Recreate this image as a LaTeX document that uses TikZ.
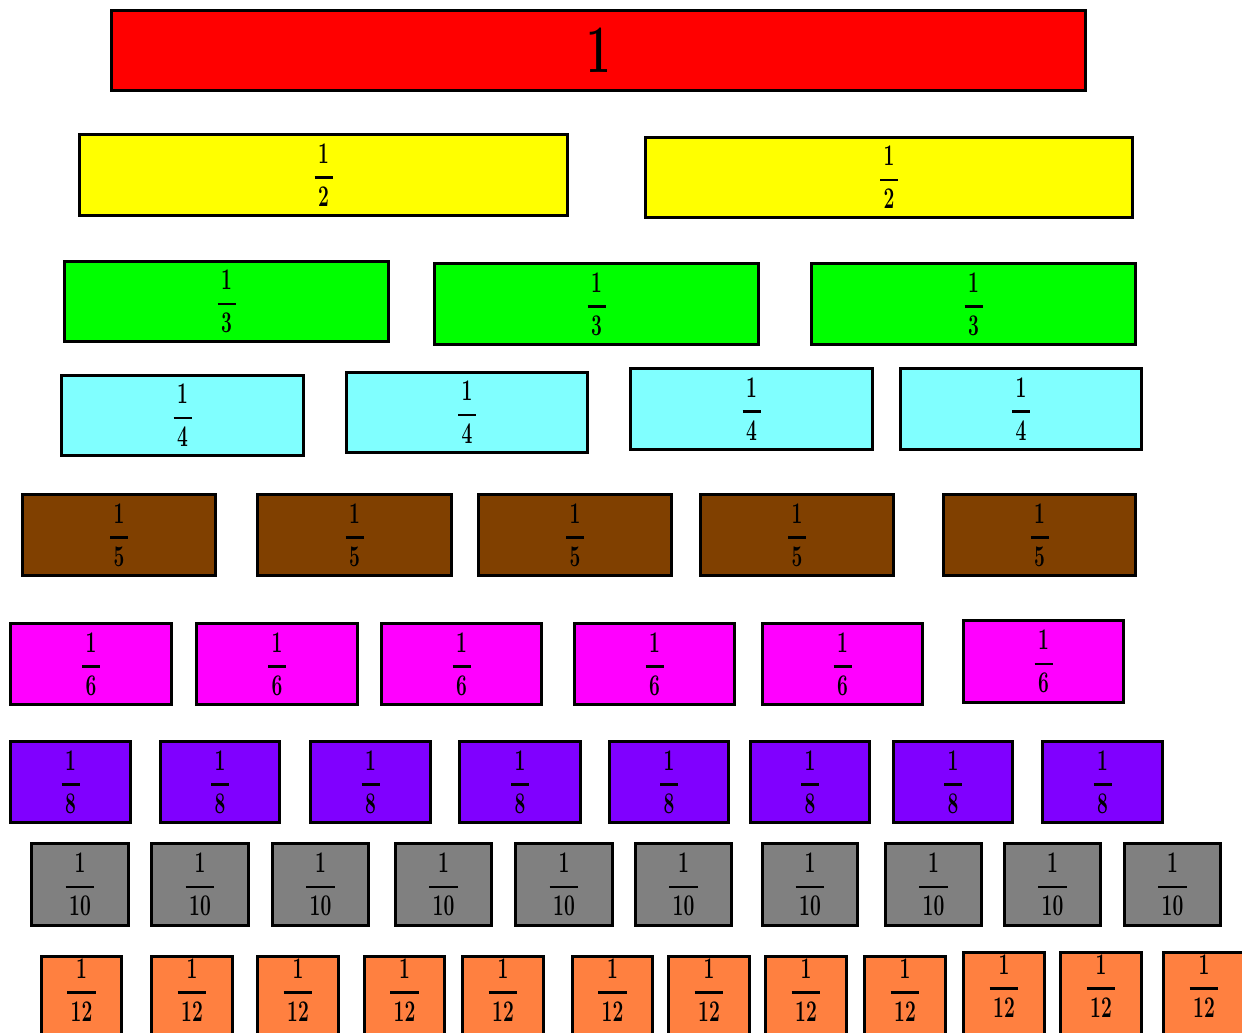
\documentclass[tikz,border=0pt]{standalone}
\usepackage{graphicx}
\definecolor{cRed}{HTML}{FF0000}
\definecolor{cYellow}{HTML}{FFFF00}
\definecolor{cGreen}{HTML}{00FF00}
\definecolor{cCyan}{HTML}{80FFFF}
\definecolor{cBrown}{HTML}{804000}
\definecolor{cMagenta}{HTML}{FF00FF}
\definecolor{cPurple}{HTML}{8000FF}
\definecolor{cGrey}{HTML}{808080}
\definecolor{cOrange}{HTML}{FF8040}
\newcommand\dg[1]{\scalebox{0.64}[1]{\bfseries #1}}
\def\botkern{0pt}
\newcommand\fr[1]{\vbox{\offinterlineskip
  \setbox0\hbox{\dg{#1}}\dimen0=\wd0 \advance\dimen0 by 7pt
  \ifdim\dimen0<18pt \dimen0=18pt\fi
  \hbox to\dimen0{\hss\dg{1}\hss}\kern13pt
  \hbox{\rule{\dimen0}{2.5pt}}\kern8pt
  \hbox to\dimen0{\hss\box0\hss}\kern\botkern}}
\newcommand\fracbox[7]{%
  \pgfmathsetmacro\bw{#5-#3-3}\pgfmathsetmacro\bh{#6-#4-3}%
  \node[piece,fill=#2,minimum width=\bw pt,minimum height=\bh pt] (#1)
    at ({(#3+#5)/2},{(#4+#6)/2}) {\fr{#7}};}
\begin{document}
\begin{tikzpicture}[x=1pt,y=-1pt,
  piece/.style={draw=black,line width=3pt,rectangle,inner sep=0pt,
    font=\fontsize{30}{30}\selectfont}]
\clip (0,0) rectangle (1242,1033);
\fill[white] (0,0) rectangle (1242,1033);
% whole
\node[piece,fill=cRed,minimum width=974pt,minimum height=80pt,
  font=\fontsize{68}{68}\selectfont] (one) at (598.5,50.5) {\scalebox{0.64}[1]{\bfseries 1}};
% halves
\fracbox{h1}{cYellow}{78}{133}{569}{217}{2}
\fracbox{h2}{cYellow}{644}{136}{1134}{219}{2}
% thirds
\fracbox{t1}{cGreen}{63}{260}{390}{343}{3}
\fracbox{t2}{cGreen}{433}{262}{760}{346}{3}
\fracbox{t3}{cGreen}{810}{262}{1137}{346}{3}
% quarters
\fracbox{q1}{cCyan}{60}{374}{305}{457}{4}
\fracbox{q2}{cCyan}{345}{371}{589}{454}{4}
\fracbox{q3}{cCyan}{629}{367}{874}{451}{4}
\fracbox{q4}{cCyan}{899}{367}{1143}{451}{4}
% fifths
\fracbox{f1}{cBrown}{21}{493}{217}{577}{5}
\fracbox{f2}{cBrown}{256}{493}{453}{577}{5}
\fracbox{f3}{cBrown}{477}{493}{673}{577}{5}
\fracbox{f4}{cBrown}{699}{493}{895}{577}{5}
\fracbox{f5}{cBrown}{942}{493}{1137}{577}{5}
% sixths
\fracbox{s1}{cMagenta}{9}{622}{173}{706}{6}
\fracbox{s2}{cMagenta}{195}{622}{359}{706}{6}
\fracbox{s3}{cMagenta}{380}{622}{543}{706}{6}
\fracbox{s4}{cMagenta}{573}{622}{736}{706}{6}
\fracbox{s5}{cMagenta}{761}{622}{924}{706}{6}
\fracbox{s6}{cMagenta}{962}{619}{1125}{704}{6}
% eighths
\fracbox{e1}{cPurple}{9}{740}{132}{824}{8}
\fracbox{e2}{cPurple}{159}{740}{281}{824}{8}
\fracbox{e3}{cPurple}{309}{740}{432}{824}{8}
\fracbox{e4}{cPurple}{458}{740}{582}{824}{8}
\fracbox{e5}{cPurple}{608}{740}{730}{824}{8}
\fracbox{e6}{cPurple}{749}{740}{871}{824}{8}
\fracbox{e7}{cPurple}{892}{740}{1014}{824}{8}
\fracbox{e8}{cPurple}{1041}{740}{1164}{824}{8}
% tenths
\fracbox{d1}{cGrey}{30}{842}{130}{927}{10}
\fracbox{d2}{cGrey}{150}{842}{250}{927}{10}
\fracbox{d3}{cGrey}{271}{842}{370}{927}{10}
\fracbox{d4}{cGrey}{394}{842}{493}{927}{10}
\fracbox{d5}{cGrey}{514}{842}{614}{927}{10}
\fracbox{d6}{cGrey}{634}{842}{733}{927}{10}
\fracbox{d7}{cGrey}{761}{842}{859}{927}{10}
\fracbox{d8}{cGrey}{884}{842}{983}{927}{10}
\fracbox{d9}{cGrey}{1003}{842}{1102}{927}{10}
\fracbox{d10}{cGrey}{1123}{842}{1222}{927}{10}
% twelfths (run past the lower edge, which clips them)
\def\botkern{28pt}
\fracbox{w1}{cOrange}{40}{955}{123}{1053}{12}
\fracbox{w2}{cOrange}{150}{955}{234}{1053}{12}
\fracbox{w3}{cOrange}{256}{955}{340}{1053}{12}
\fracbox{w4}{cOrange}{363}{955}{446}{1053}{12}
\fracbox{w5}{cOrange}{461}{955}{545}{1053}{12}
\fracbox{w6}{cOrange}{571}{955}{654}{1053}{12}
\fracbox{w7}{cOrange}{667}{955}{751}{1053}{12}
\fracbox{w8}{cOrange}{764}{955}{848}{1053}{12}
\fracbox{w9}{cOrange}{863}{955}{947}{1053}{12}
\fracbox{w10}{cOrange}{962}{951}{1046}{1049}{12}
\fracbox{w11}{cOrange}{1059}{951}{1143}{1049}{12}
\fracbox{w12}{cOrange}{1162}{951}{1246}{1049}{12}
\end{tikzpicture}
\end{document}
